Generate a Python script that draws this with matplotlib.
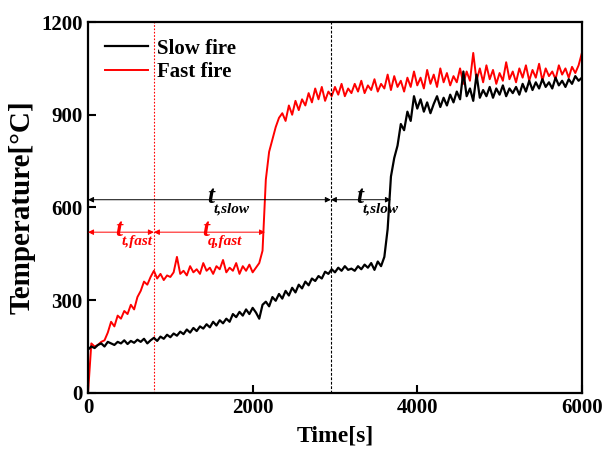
import numpy as np
import matplotlib
matplotlib.use('Agg')
import matplotlib.pyplot as plt

plt.rcParams['font.family'] = ['Liberation Serif', 'DejaVu Serif']
plt.rcParams['font.weight'] = 'bold'

# sampling times [s], one reading every 40 s
time = np.arange(0, 6001, 40)

# slow fire furnace temperature [°C]
slow_fire = [
    140, 150, 145, 155, 160, 150, 165, 160, 155, 165,
    160, 170, 158, 168, 162, 172, 165, 175, 160, 170,
    178, 168, 182, 175, 188, 180, 192, 185, 198, 190,
    205, 195, 210, 200, 215, 208, 222, 212, 230, 218,
    235, 225, 240, 230, 255, 245, 262, 250, 270, 255,
    275, 260, 240, 285, 295, 280, 310, 298, 320, 305,
    330, 315, 340, 325, 350, 338, 360, 348, 370, 362,
    378, 370, 392, 385, 400, 390, 405, 395, 410, 398,
    402, 395, 410, 400, 415, 405, 420, 398, 425, 410,
    440, 530, 700, 760, 800, 870, 850, 910, 880, 960,
    920, 950, 910, 940, 905, 935, 960, 925, 955, 930,
    965, 940, 975, 950, 1040, 960, 985, 945, 1030, 955,
    980, 960, 990, 955, 985, 965, 995, 960, 985, 970,
    990, 965, 1000, 975, 1010, 980, 1005, 985, 1015, 990,
    1005, 985, 1020, 995, 1010, 990, 1015, 1000, 1025, 1010,
    1020,
]

# fast fire furnace temperature [°C]
fast_fire = [
    0, 160, 150, 155, 165, 170, 195, 230, 215, 250,
    240, 265, 255, 285, 270, 310, 330, 360, 350, 375,
    395, 370, 385, 365, 380, 375, 390, 440, 385, 395,
    380, 410, 390, 400, 385, 420, 395, 405, 385, 410,
    400, 430, 390, 405, 395, 420, 385, 410, 395, 415,
    390, 405, 420, 460, 690, 780, 820, 860, 890, 905,
    880, 930, 900, 945, 915, 950, 930, 970, 940, 985,
    950, 990, 945, 975, 960, 990, 965, 1000, 960, 985,
    970, 1000, 975, 1010, 970, 995, 980, 1015, 975, 1000,
    985, 1030, 980, 1025, 990, 1010, 975, 1020, 990, 1040,
    995, 1020, 985, 1045, 1000, 1030, 990, 1050, 1005, 1035,
    995, 1025, 1005, 1050, 1000, 1040, 1010, 1100, 1010, 1050,
    1005, 1060, 1015, 1045, 1000, 1035, 1010, 1070, 1015, 1040,
    1005, 1050, 1020, 1060, 1010, 1045, 1020, 1065, 1010, 1050,
    1025, 1040, 1015, 1060, 1030, 1050, 1020, 1055, 1035, 1060,
    1100,
]

# characteristic times [s]
t_fast_end = 800
t_q_fast_end = 2150
t_slow_end = 2950
t_slow2_end = 3680

fig = plt.figure(figsize=(6.03, 4.5), dpi=100)
ax = fig.add_axes([0.146, 0.127, 0.819, 0.824])

ax.plot(time, slow_fire, color='black', lw=1.6, label='Slow fire', zorder=3)
ax.plot(time, fast_fire, color='red', lw=1.4, label='Fast fire', zorder=2)

ax.axvline(t_fast_end, color='red', ls=(0, (1.5, 1.5)), lw=0.8)
ax.axvline(t_slow_end, color='black', ls=(0, (2.5, 1.5)), lw=0.8)


def span_arrow(x0, x1, y, color):
    ax.annotate('', xy=(x1, y), xytext=(x0, y),
                arrowprops=dict(arrowstyle='<|-|>', color=color, lw=0.7,
                                mutation_scale=8, shrinkA=0, shrinkB=0))


def span_label(x, y, sub, color):
    ax.text(x, y - 12, 't', color=color, fontsize=18, style='italic',
            fontweight='bold', ha='right', va='baseline')
    ax.text(x - 10, y - 8, sub, color=color, fontsize=11, style='italic',
            fontweight='bold', ha='left', va='top')


span_arrow(0, t_slow_end, 625, 'black')
span_arrow(t_slow_end, t_slow2_end, 625, 'black')
span_arrow(0, t_fast_end, 520, 'red')
span_arrow(t_fast_end, t_q_fast_end, 520, 'red')

span_label(1530, 625, 't,slow', 'black')
span_label(3340, 625, 't,slow', 'black')
span_label(420, 520, 't,fast', 'red')
span_label(1470, 520, 'q,fast', 'red')

ax.set_xlim(0, 6000)
ax.set_ylim(0, 1200)
ax.set_xticks([0, 2000, 4000, 6000])
ax.set_yticks([0, 300, 600, 900, 1200])
ax.tick_params(direction='in', length=6, width=1.5, labelsize=15, pad=4)
for lbl in ax.get_xticklabels() + ax.get_yticklabels():
    lbl.set_fontweight('bold')
for sp in ax.spines.values():
    sp.set_linewidth(1.6)

ax.set_xlabel('Time[s]', fontsize=17, fontweight='bold', labelpad=5)
ax.set_ylabel('Temperature[°C]', fontsize=21, fontweight='bold', labelpad=4)

leg = ax.legend(loc='upper left', frameon=False, handlelength=2.1,
                borderaxespad=0.4, handletextpad=0.4, labelspacing=0.15,
                prop={'weight': 'bold', 'size': 15})

fig.savefig('out.png', dpi=100)
